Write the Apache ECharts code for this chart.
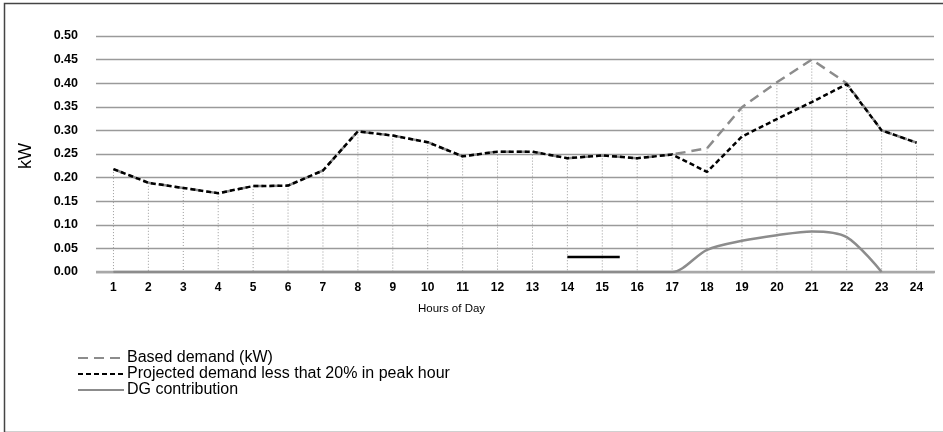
<!DOCTYPE html>
<html>
<head>
<meta charset="utf-8">
<script src="https://cdn.jsdelivr.net/npm/echarts@6/dist/echarts.min.js"></script>
<style>
html,body{margin:0;padding:0;background:#fff;}
#chart{width:943px;height:432px;}
</style>
</head>
<body>
<div id="chart"></div>
<script>
var hours = ['1','2','3','4','5','6','7','8','9','10','11','12','13','14','15','16','17','18','19','20','21','22','23','24'];
var baseDemand = [0.218,0.189,0.178,0.167,0.182,0.183,0.215,0.298,0.289,0.275,0.245,0.255,0.255,0.241,0.247,0.241,0.249,0.262,0.349,0.402,0.450,0.400,0.300,0.274];
var projectedDemand = [0.218,0.189,0.178,0.167,0.182,0.183,0.215,0.298,0.289,0.275,0.245,0.255,0.255,0.241,0.247,0.241,0.249,0.212,0.287,0.324,0.360,0.398,0.300,0.274];
var dgContribution = [0,0,0,0,0,0,0,0,0,0,0,0,0,0,0,0,0,0.047,0.066,0.078,0.086,0.074,0,null];
var yTicks = [0,0.05,0.10,0.15,0.20,0.25,0.30,0.35,0.40,0.45,0.50];
var strayLine = [[14,0.032],[15.5,0.032]];

var FONT = "'Liberation Sans',Arial,sans-serif";
var dropTops = hours.map(function(h,i){ return [i, Math.max(baseDemand[i], projectedDemand[i])]; });

var chart = echarts.init(document.getElementById('chart'), null, {renderer:'canvas'});
chart.setOption({
  animation:false,
  backgroundColor:'#fff',
  textStyle:{fontFamily:FONT},
  grid:{left:96, top:36, width:838, height:236, containLabel:false},
  xAxis:[{
    type:'category', data:hours, boundaryGap:true,
    axisLine:{show:false}, axisTick:{show:false},
    axisLabel:{color:'#000', fontFamily:FONT, fontWeight:'bold', fontSize:12, margin:10},
    splitLine:{show:false}
  },{
    type:'value', min:0.5, max:24.5, show:false
  }],
  yAxis:{
    type:'value', min:0, max:0.5, interval:0.05,
    axisLine:{show:false}, axisTick:{show:false},
    axisLabel:{color:'#000', fontFamily:FONT, fontWeight:'bold', fontSize:12.5, margin:18,
      formatter:function(v){ return v.toFixed(2); }},
    splitLine:{lineStyle:{color:'#9a9a9a', width:1.3}}
  },
  legend:{
    orient:'vertical', left:72, top:345, itemWidth:46, itemHeight:12, itemGap:0,
    itemStyle:{opacity:0},
    textStyle:{fontFamily:FONT, fontSize:16, color:'#000', padding:[0,0,0,-2]},
    data:['Based demand (kW)','Projected demand less that 20% in peak hour','DG contribution']
  },
  graphic:[
    {type:'rect', left:2, top:1, shape:{width:950, height:429}, style:{fill:'none', stroke:'#444', lineWidth:1.5}, silent:true, z:-1},
    {type:'text', left:17, top:143, rotation:Math.PI/2, style:{text:'kW', fontFamily:FONT, fontSize:18, fill:'#000'}},
    {type:'text', left:418, top:303, style:{text:'Hours of Day', fontFamily:FONT, fontSize:11.5, fill:'#000'}},
    {type:'line', shape:{x1:96, y1:272, x2:935, y2:272}, style:{stroke:'#a8a8a8', lineWidth:2.5}, z:1}
  ],
  series:[
    {
      type:'custom', name:'drop', silent:true, z:1,
      renderItem:function(params, api){
        var top = api.coord([api.value(0), api.value(1)]);
        var bot = api.coord([api.value(0), 0]);
        return {type:'line', shape:{x1:top[0], y1:top[1], x2:bot[0], y2:bot[1]},
          style:{stroke:'#9a9a9a', lineWidth:1, lineDash:[1,2]}};
      },
      data:dropTops
    },
    {
      name:'Based demand (kW)', type:'line', data:baseDemand, symbol:'none', z:3,
      lineStyle:{color:'#8c8c8c', width:2.5, type:[10,6]}, itemStyle:{color:'#8c8c8c'}
    },
    {
      name:'Projected demand less that 20% in peak hour', type:'line', data:projectedDemand, symbol:'none', z:4,
      lineStyle:{color:'#000', width:2.5, type:[5,3]}, itemStyle:{color:'#000'}
    },
    {
      name:'DG contribution', type:'line', data:dgContribution, symbol:'none', smooth:0.3, z:3,
      lineStyle:{color:'#8c8c8c', width:2.5}, itemStyle:{color:'#8c8c8c'}
    },
    {
      name:'stray', type:'line', xAxisIndex:1, data:strayLine, symbol:'none', silent:true, z:4,
      lineStyle:{color:'#000', width:2.5}
    }
  ]
});
</script>
</body>
</html>
